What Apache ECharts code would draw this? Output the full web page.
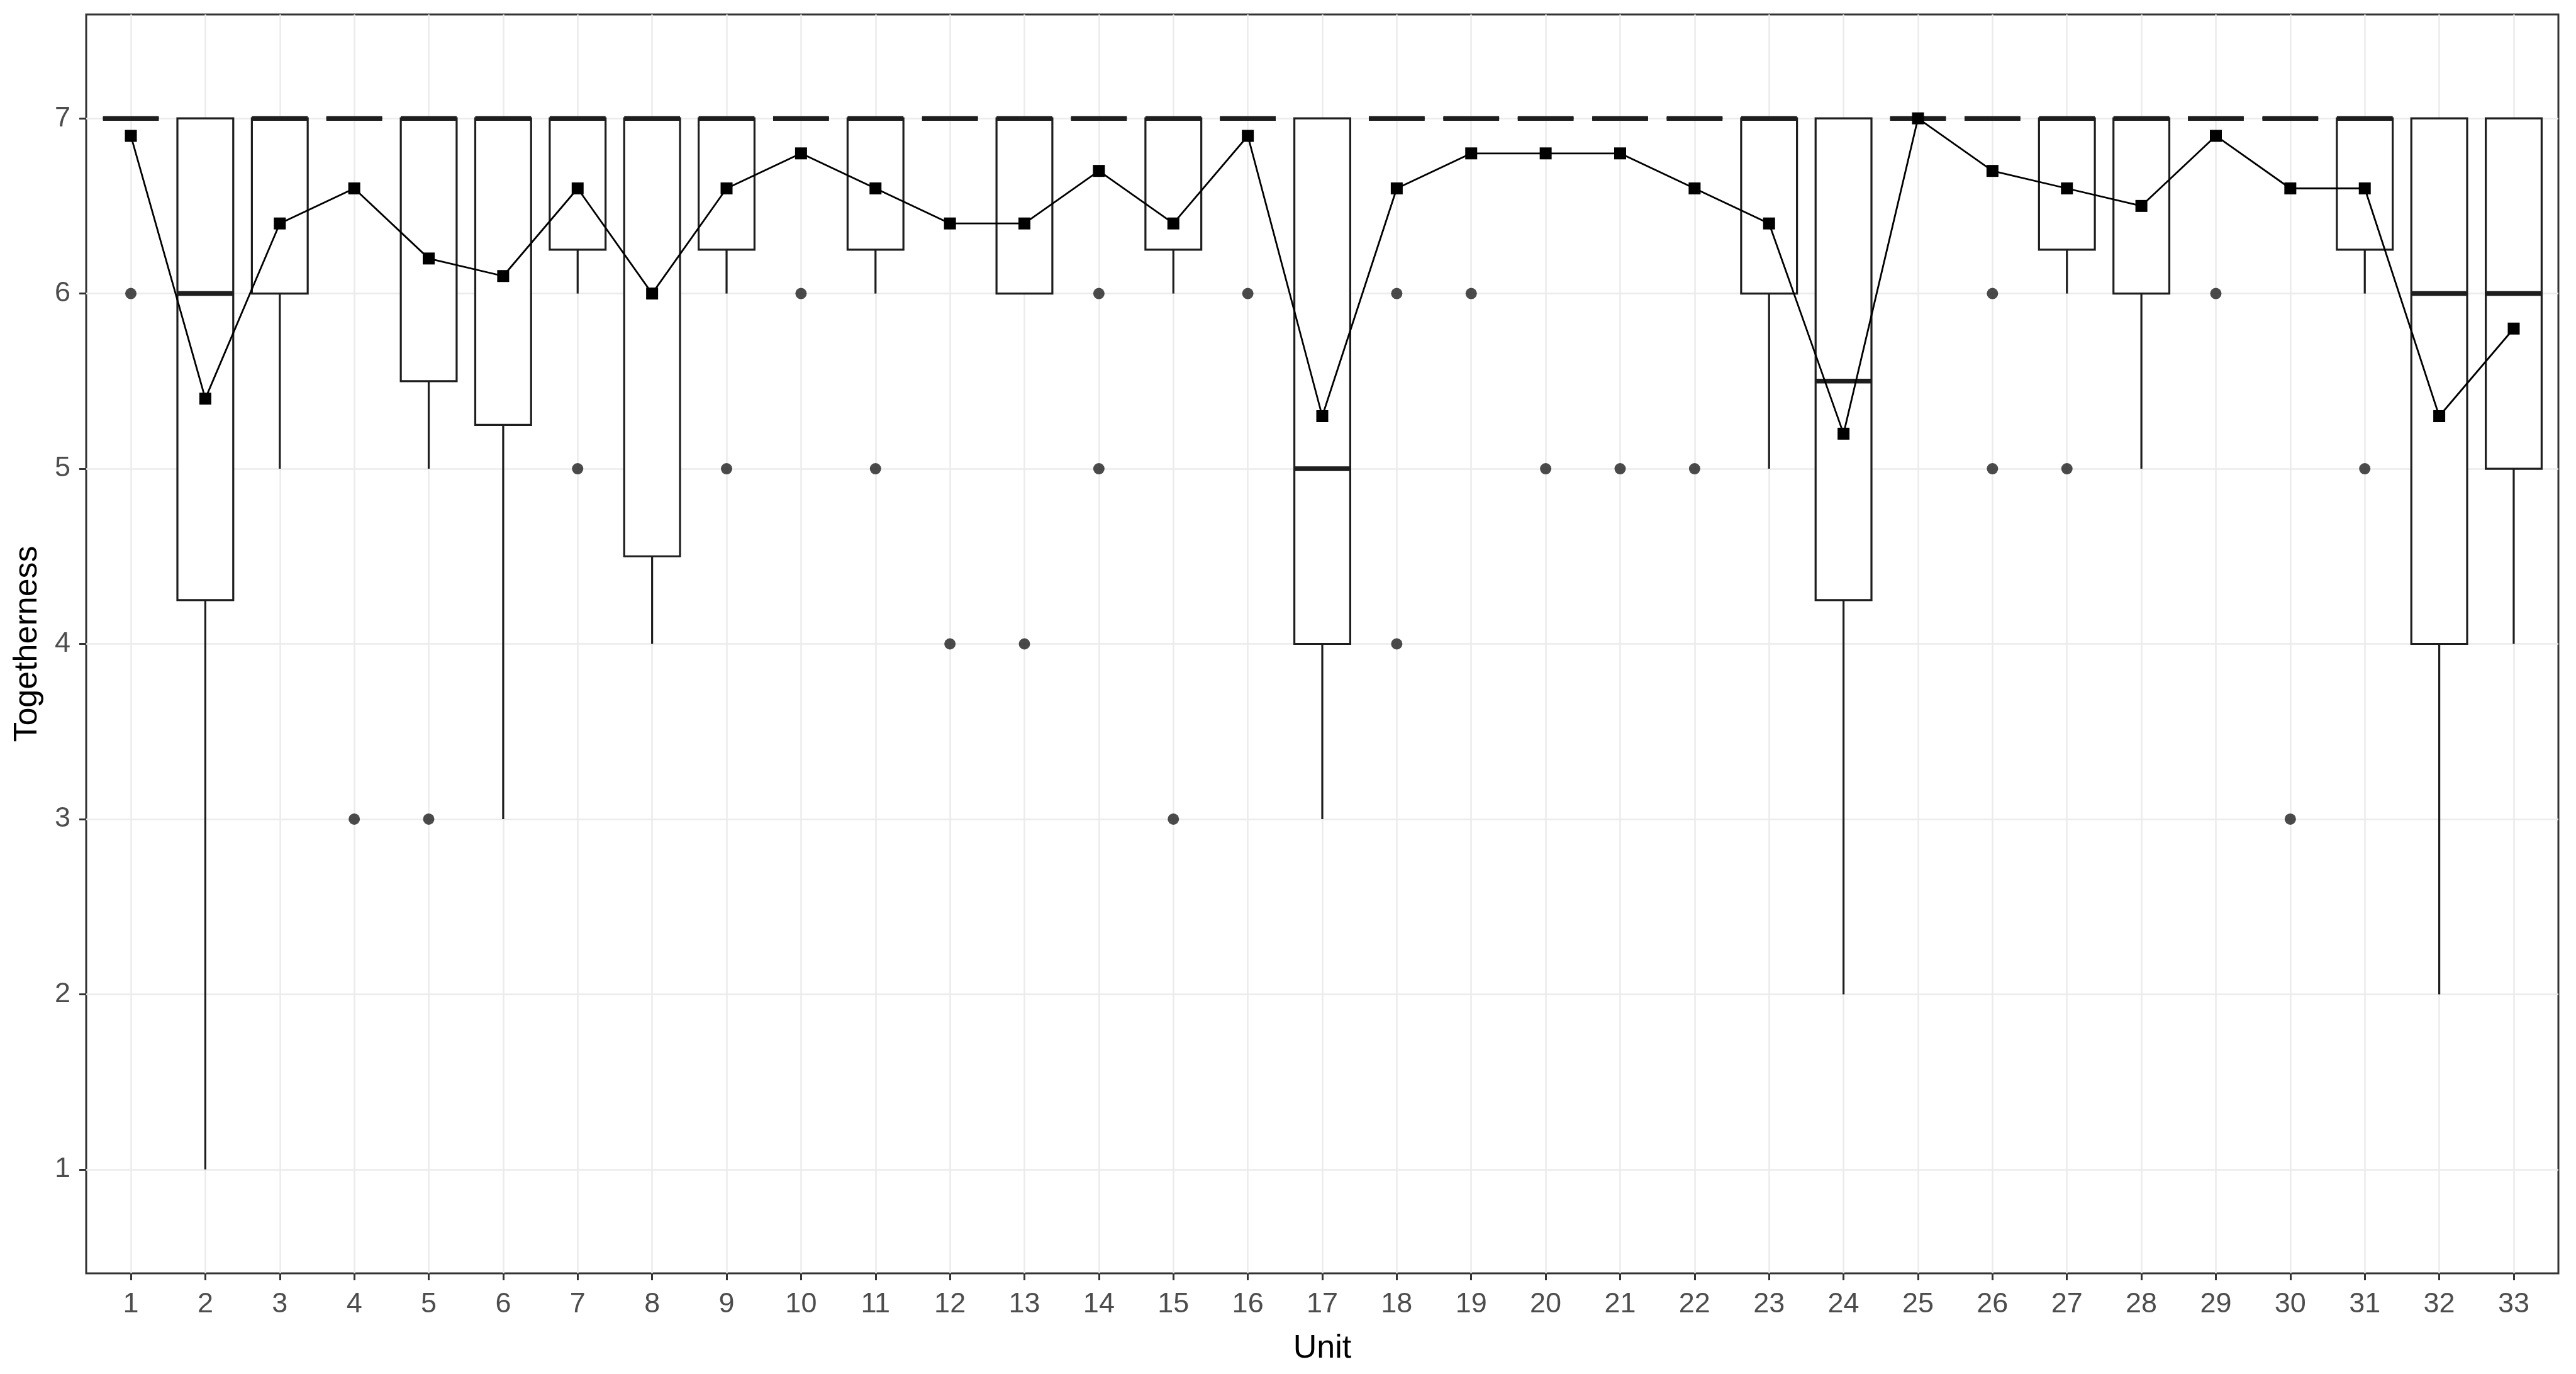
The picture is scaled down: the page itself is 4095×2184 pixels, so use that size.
<!DOCTYPE html>
<html>
<head>
<meta charset="utf-8">
<script src="https://cdn.jsdelivr.net/npm/echarts@6/dist/echarts.min.js"></script>
<style>
html,body{margin:0;padding:0;background:#fff;}
#chart{width:4095px;height:2184px;}
</style>
</head>
<body>
<div id="chart"></div>
<script>
// ---- data ----
const units = [1,2,3,4,5,6,7,8,9,10,11,12,13,14,15,16,17,18,19,20,21,22,23,24,25,26,27,28,29,30,31,32,33];
const whiskerLow  = [7,1,5,7,5,3,6,4,6,7,6,7,6,7,6,7,3,7,7,7,7,7,5,2,7,7,6,5,7,7,6,2,4];
const q1          = [7,4.25,6,7,5.5,5.25,6.25,4.5,6.25,7,6.25,7,6,7,6.25,7,4,7,7,7,7,7,6,4.25,7,7,6.25,6,7,7,6.25,4,5];
const median      = [7,6,7,7,7,7,7,7,7,7,7,7,7,7,7,7,5,7,7,7,7,7,7,5.5,7,7,7,7,7,7,7,6,6];
const q3          = [7,7,7,7,7,7,7,7,7,7,7,7,7,7,7,7,7,7,7,7,7,7,7,7,7,7,7,7,7,7,7,7,7];
const whiskerHigh = [7,7,7,7,7,7,7,7,7,7,7,7,7,7,7,7,7,7,7,7,7,7,7,7,7,7,7,7,7,7,7,7,7];
const outlierUnit  = [1,4,5,7,9,10,11,12,13,14,14,15,16,18,18,19,20,21,22,26,26,27,29,30,31];
const outlierValue = [6,3,3,5,5,6,5,4,4,6,5,3,6,6,4,6,5,5,5,6,5,5,6,3,5];
const means = [6.9,5.4,6.4,6.6,6.2,6.1,6.6,6.0,6.6,6.8,6.6,6.4,6.4,6.7,6.4,6.9,5.3,6.6,6.8,6.8,6.8,6.6,6.4,5.2,7.0,6.7,6.6,6.5,6.9,6.6,6.6,5.3,5.8];
const yTicks = [1,2,3,4,5,6,7];

// ---- build series data ----
const boxData = units.map((u,i)=>[u, whiskerLow[i], q1[i], median[i], q3[i], whiskerHigh[i]]);
const outlierData = outlierUnit.map((u,i)=>[u, outlierValue[i]]);
const meanData = units.map((u,i)=>[u, means[i]]);

const FONT = "'Liberation Sans', Arial, sans-serif";
const BOX_W = 0.75;
const LINE = '#1e1e1e';

const chart = echarts.init(document.getElementById('chart'));
chart.setOption({
  animation: false,
  backgroundColor: '#fff',
  grid: {
    left: 137, right: 28, top: 23, bottom: 160,
    containLabel: false, outerBoundsMode: 'none',
    show: true, backgroundColor: '#fff', borderColor: '#333', borderWidth: 3
  },
  xAxis: {
    type: 'value', min: 0.4, max: 33.6,
    name: 'Unit', nameLocation: 'middle', nameGap: 94,
    nameTextStyle: {fontFamily: FONT, fontSize: 52, color: '#000'},
    axisLine: {show: false},
    axisTick: {show: true, customValues: units, length: 11, lineStyle: {color: '#333', width: 3}},
    axisLabel: {show: true, customValues: units, fontFamily: FONT, fontSize: 45, color: '#4D4D4D', margin: 27},
    splitLine: {show: true, lineStyle: {color: '#EBEBEB', width: 2.5}}
  },
  yAxis: {
    type: 'value', min: 0.407, max: 7.593,
    name: 'Togetherness', nameLocation: 'middle', nameGap: 67, nameRotate: 90,
    nameTextStyle: {fontFamily: FONT, fontSize: 52, color: '#000'},
    axisLine: {show: false},
    axisTick: {show: true, customValues: yTicks, length: 11, lineStyle: {color: '#333', width: 3}},
    axisLabel: {show: true, customValues: yTicks, fontFamily: FONT, fontSize: 45, color: '#4D4D4D', margin: 25},
    splitLine: {show: true, lineStyle: {color: '#EBEBEB', width: 2.5}}
  },
  series: [
    {
      type: 'custom',
      name: 'box',
      z: 2,
      clip: true,
      encode: {x: 0, y: [1,2,3,4,5]},
      data: boxData,
      renderItem: function(params, api) {
        const x = api.value(0);
        const pLo = api.coord([x, api.value(1)]);
        const pQ1 = api.coord([x, api.value(2)]);
        const pMd = api.coord([x, api.value(3)]);
        const pQ3 = api.coord([x, api.value(4)]);
        const pHi = api.coord([x, api.value(5)]);
        const half = api.size([BOX_W, 0])[0] / 2;
        const cx = pQ1[0];
        const ls = {stroke: LINE, lineWidth: 3.2};
        return {
          type: 'group',
          children: [
            {type: 'line', shape: {x1: cx, y1: pLo[1], x2: cx, y2: pQ1[1]}, style: ls},
            {type: 'line', shape: {x1: cx, y1: pQ3[1], x2: cx, y2: pHi[1]}, style: ls},
            {type: 'rect', shape: {x: cx - half, y: pQ3[1], width: 2 * half, height: pQ1[1] - pQ3[1]},
             style: {fill: '#fff', stroke: LINE, lineWidth: 3.2}},
            {type: 'line', shape: {x1: cx - half, y1: pMd[1], x2: cx + half, y2: pMd[1]},
             style: {stroke: LINE, lineWidth: 7.5}}
          ]
        };
      }
    },
    {
      type: 'scatter',
      name: 'outliers',
      z: 3,
      data: outlierData,
      symbol: 'circle',
      symbolSize: 18,
      itemStyle: {color: '#1e1e1e'}
    },
    {
      type: 'line',
      name: 'mean',
      z: 4,
      data: meanData,
      symbol: 'rect',
      symbolSize: 19,
      showAllSymbol: true,
      itemStyle: {color: '#000'},
      lineStyle: {color: '#000', width: 2.8}
    }
  ]
});
</script>
</body>
</html>
